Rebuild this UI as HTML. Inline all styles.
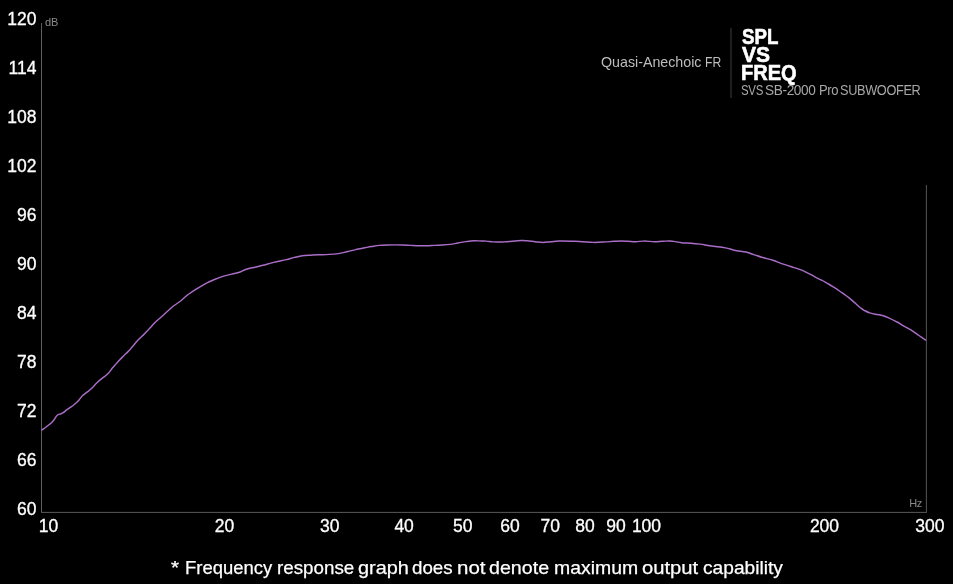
<!DOCTYPE html>
<html><head><meta charset="utf-8"><style>
html,body{margin:0;padding:0;background:#000;}
body{width:953px;height:584px;position:relative;overflow:hidden;font-family:"Liberation Sans",sans-serif;color:#fff;}
svg{position:absolute;left:0;top:0;}
.t{position:absolute;white-space:nowrap;line-height:1;}
.yl{font-size:17.5px;-webkit-text-stroke:0.3px #fff;text-align:right;width:60px;}
.xl{font-size:17.5px;-webkit-text-stroke:0.3px #fff;}
.u{font-size:11px;color:#8a8a8a;}
.cw{top:557.5px;font-size:19px;-webkit-text-stroke:0.25px #fff;transform-origin:0 0;}
.qa{top:53.5px;font-size:15px;color:#bdbdbd;transform-origin:0 0;}
.svs{top:82.2px;font-size:15px;color:#a8a8a8;letter-spacing:-0.4px;transform-origin:0 0;}
.b{-webkit-text-stroke:0.6px #fff;font-size:22px;font-weight:bold;transform-origin:0 0;}
</style></head><body>
<svg width="953" height="584" viewBox="0 0 953 584">
<rect x="41" y="23" width="1" height="490" fill="#5f5f5f"/>
<rect x="42" y="511" width="884" height="1" fill="#0a0a0a"/>
<rect x="41" y="512" width="886" height="1" fill="#4f4f4f"/>
<rect x="925" y="185" width="1" height="327" fill="#090909"/>
<rect x="926" y="185" width="1" height="328" fill="#4c4c4c"/>
<rect x="730" y="28" width="2" height="70" fill="#1f1f1f"/>
<path d="M41.5,430.4 C43.00,429.38 44.50,428.05 46.0,427.0 C48.00,425.61 50.00,424.16 52.0,422.2 C52.80,421.41 53.60,420.28 54.4,419.3 C55.20,418.32 56.00,416.42 56.8,415.7 C57.27,415.28 57.73,414.94 58.2,414.7 C59.13,414.21 60.07,414.16 61.0,413.8 C61.60,413.57 62.20,413.21 62.8,412.9 C64.20,412.17 65.60,410.62 67.0,409.7 C68.80,408.52 70.60,407.25 72.4,406.0 C73.60,405.16 74.80,404.00 76.0,403.0 C77.00,402.17 78.00,401.01 79.0,400.0 C80.13,398.85 81.27,396.80 82.4,395.7 C84.33,393.82 86.27,392.75 88.2,391.3 C89.63,390.23 91.07,388.78 92.5,387.5 C93.73,386.40 94.97,384.60 96.2,383.5 C97.33,382.49 98.47,381.27 99.6,380.4 C101.10,379.25 102.60,378.02 104.1,376.9 C105.60,375.77 107.10,374.36 108.6,372.9 C110.00,371.54 111.40,369.10 112.8,367.6 C114.23,366.06 115.67,364.23 117.1,362.8 C118.53,361.38 119.97,359.45 121.4,358.1 C122.83,356.75 124.27,355.05 125.7,353.8 C126.83,352.81 127.97,351.68 129.1,350.6 C130.23,349.52 131.37,347.81 132.5,346.6 C133.93,345.06 135.37,342.81 136.8,341.4 C137.93,340.29 139.07,339.01 140.2,338.0 C141.37,336.96 142.53,335.65 143.7,334.6 C145.63,332.86 147.57,330.38 149.5,328.5 C151.13,326.91 152.77,324.58 154.4,323.1 C156.60,321.11 158.80,319.10 161.0,317.3 C163.17,315.53 165.33,312.96 167.5,311.2 C169.70,309.42 171.90,307.03 174.1,305.5 C176.30,303.97 178.50,302.56 180.7,301.0 C182.90,299.44 185.10,296.65 187.3,295.1 C189.47,293.57 191.63,291.97 193.8,290.7 C196.00,289.41 198.20,287.77 200.4,286.6 C202.90,285.27 205.40,283.52 207.9,282.4 C210.50,281.23 213.10,279.94 215.7,279.0 C218.33,278.05 220.97,276.84 223.6,276.1 C226.23,275.37 228.87,274.69 231.5,274.1 C234.13,273.52 236.77,273.03 239.4,272.2 C241.47,271.55 243.53,270.17 245.6,269.5 C248.77,268.48 251.93,267.89 255.1,267.2 C257.73,266.63 260.37,265.92 263.0,265.3 C265.60,264.69 268.20,263.71 270.8,263.1 C273.43,262.48 276.07,261.72 278.7,261.2 C281.33,260.68 283.97,260.17 286.6,259.6 C289.20,259.03 291.80,257.97 294.4,257.4 C297.03,256.83 299.67,256.13 302.3,255.8 C304.93,255.47 307.57,255.36 310.2,255.2 C312.83,255.03 315.47,254.79 318.1,254.7 C320.70,254.61 323.30,254.69 325.9,254.6 C328.53,254.51 331.17,254.31 333.8,254.1 C335.37,253.97 336.93,253.81 338.5,253.6 C341.63,253.19 344.77,252.16 347.9,251.5 C350.50,250.95 353.10,250.12 355.7,249.6 C358.33,249.07 360.97,248.47 363.6,248.0 C366.23,247.53 368.87,246.89 371.5,246.5 C374.13,246.11 376.77,245.63 379.4,245.4 C382.00,245.18 384.60,245.08 387.2,245.0 C392.47,244.84 397.73,244.84 403.0,245.0 C405.60,245.08 408.20,245.30 410.8,245.4 C413.43,245.51 416.07,245.66 418.7,245.7 C421.33,245.74 423.97,245.75 426.6,245.7 C429.20,245.65 431.80,245.50 434.4,245.4 C437.03,245.29 439.67,245.15 442.3,245.0 C444.93,244.85 447.57,244.70 450.2,244.4 C452.83,244.10 455.47,243.42 458.1,243.0 C460.70,242.58 463.30,241.93 465.9,241.6 C468.53,241.27 471.17,240.89 473.8,240.8 C476.43,240.71 479.07,240.95 481.7,241.0 C483.23,241.03 484.77,241.01 486.3,241.1 C488.40,241.23 490.50,241.75 492.6,241.9 C496.27,242.17 499.93,242.03 503.6,241.9 C507.27,241.77 510.93,241.23 514.6,241.0 C517.23,240.83 519.87,240.46 522.5,240.5 C524.07,240.52 525.63,240.68 527.2,240.8 C529.83,241.00 532.47,241.44 535.1,241.7 C537.73,241.95 540.37,242.50 543.0,242.5 C545.60,242.50 548.20,241.92 550.8,241.7 C553.43,241.47 556.07,241.12 558.7,241.0 C563.93,240.75 569.17,241.11 574.4,241.3 C577.03,241.39 579.67,241.57 582.3,241.7 C585.97,241.89 589.63,242.35 593.3,242.4 C597.50,242.46 601.70,242.13 605.9,241.9 C608.53,241.75 611.17,241.44 613.8,241.3 C616.43,241.17 619.07,240.98 621.7,241.0 C623.77,241.02 625.83,241.21 627.9,241.3 C630.50,241.42 633.10,241.73 635.7,241.7 C638.33,241.67 640.97,241.15 643.6,241.1 C647.27,241.03 650.93,241.72 654.6,241.7 C657.23,241.68 659.87,241.41 662.5,241.3 C665.13,241.20 667.77,240.84 670.4,241.0 C671.97,241.09 673.53,241.39 675.1,241.6 C677.20,241.88 679.30,242.46 681.4,242.7 C684.53,243.05 687.67,242.99 690.8,243.2 C693.97,243.41 697.13,243.71 700.3,244.1 C703.43,244.49 706.57,245.37 709.7,245.8 C712.33,246.16 714.97,246.49 717.6,246.8 C720.23,247.12 722.87,247.46 725.5,247.9 C729.17,248.52 732.83,250.07 736.5,250.7 C739.63,251.24 742.77,251.32 745.9,252.0 C748.53,252.57 751.17,253.82 753.8,254.6 C756.43,255.38 759.07,256.50 761.7,257.2 C763.40,257.65 765.10,258.18 766.8,258.6 C769.10,259.17 771.40,259.82 773.7,260.5 C775.97,261.17 778.23,262.37 780.5,263.1 C782.80,263.84 785.10,264.72 787.4,265.4 C789.67,266.07 791.93,266.93 794.2,267.6 C796.50,268.28 798.80,269.07 801.1,269.9 C803.37,270.72 805.63,272.07 807.9,273.1 C810.20,274.14 812.50,275.73 814.8,276.8 C817.07,277.86 819.33,279.13 821.6,280.2 C823.90,281.29 826.20,282.79 828.5,284.0 C830.77,285.19 833.03,286.88 835.3,288.2 C837.60,289.54 839.90,291.45 842.2,292.9 C844.47,294.33 846.73,296.18 849.0,297.8 C851.30,299.44 853.60,301.96 855.9,303.8 C857.27,304.89 858.63,306.53 860.0,307.5 C861.40,308.49 862.80,309.57 864.2,310.3 C866.03,311.26 867.87,312.31 869.7,312.9 C871.50,313.48 873.30,313.92 875.1,314.2 C876.47,314.41 877.83,314.47 879.2,314.7 C881.03,315.01 882.87,315.62 884.7,316.2 C886.53,316.78 888.37,317.84 890.2,318.6 C892.50,319.56 894.80,320.87 897.1,322.0 C899.37,323.12 901.63,324.92 903.9,326.1 C906.20,327.29 908.50,328.61 910.8,329.9 C913.07,331.17 915.33,333.20 917.6,334.6 C920.40,336.33 923.20,338.59 926.0,340.3" fill="none" stroke="#aa6ec8" stroke-width="1.45" stroke-linejoin="round" stroke-linecap="butt"/>
</svg>
<div id="txt" style="position:absolute;left:0;top:0;width:953px;height:584px;will-change:transform;">
<div class="t yl" id="y120" style="left:-23.5px;top:11.30px">120</div>
<div class="t yl" id="y114" style="left:-23.5px;top:60.30px">114</div>
<div class="t yl" id="y108" style="left:-23.5px;top:109.30px">108</div>
<div class="t yl" id="y102" style="left:-23.5px;top:158.30px">102</div>
<div class="t yl" id="y96" style="left:-23.5px;top:207.30px">96</div>
<div class="t yl" id="y90" style="left:-23.5px;top:256.30px">90</div>
<div class="t yl" id="y84" style="left:-23.5px;top:305.30px">84</div>
<div class="t yl" id="y78" style="left:-23.5px;top:354.30px">78</div>
<div class="t yl" id="y72" style="left:-23.5px;top:403.30px">72</div>
<div class="t yl" id="y66" style="left:-23.5px;top:452.30px">66</div>
<div class="t yl" id="y60" style="left:-23.5px;top:501.30px">60</div>
<div class="t xl" id="x10" style="left:38.8px;top:517.7px">10</div>
<div class="t xl" id="x20" style="left:214.8px;top:517.7px">20</div>
<div class="t xl" id="x30" style="left:320.1px;top:517.7px">30</div>
<div class="t xl" id="x40" style="left:394.4px;top:517.7px">40</div>
<div class="t xl" id="x50" style="left:453.1px;top:517.7px">50</div>
<div class="t xl" id="x60" style="left:500.2px;top:517.7px">60</div>
<div class="t xl" id="x70" style="left:540.5px;top:517.7px">70</div>
<div class="t xl" id="x80" style="left:575.2px;top:517.7px">80</div>
<div class="t xl" id="x90" style="left:606.2px;top:517.7px">90</div>
<div class="t xl" id="x100" style="left:631.9px;top:517.7px">100</div>
<div class="t xl" id="x200" style="left:809.9px;top:517.7px">200</div>
<div class="t xl" id="x300" style="left:915.2px;top:517.7px">300</div>
<div class="t u" id="db" style="left:45px;top:17px">dB</div>
<div class="t u" id="hz" style="left:909.3px;top:497.5px;letter-spacing:-0.5px">Hz</div>
<div class="t qa" id="qa0" style="left:600.55px;transform:scaleX(0.9489)">Quasi-Anechoic</div>
<div class="t qa" id="qa1" style="left:704.93px;transform:scaleX(0.8064)">FR</div>
<div class="t b" id="spl" style="left:742px;top:26.45px;transform:scaleX(0.85)">SPL</div>
<div class="t b" id="vs" style="left:742px;top:44.45px;transform:scaleX(0.955)">VS</div>
<div class="t b" id="freq" style="left:741.3px;top:62.15px;transform:scaleX(0.91)">FREQ</div>
<div class="t svs" id="svs0" style="left:741.1px;transform:scaleX(0.7635)">SVS</div>
<div class="t svs" id="svs1" style="left:764.83px;transform:scaleX(0.9093)">SB-2000</div>
<div class="t svs" id="svs2" style="left:818.66px;transform:scaleX(0.8687)">Pro</div>
<div class="t svs" id="svs3" style="left:839.7px;transform:scaleX(0.8485)">SUBWOOFER</div>
<div class="t cw" id="cw0" style="left:171.24px;transform:scaleX(1.0887)">*</div>
<div class="t cw" id="cw1" style="left:184.54px;transform:scaleX(0.9718)">Frequency</div>
<div class="t cw" id="cw2" style="left:276.57px;transform:scaleX(0.9886)">response</div>
<div class="t cw" id="cw3" style="left:357.55px;transform:scaleX(1.0478)">graph</div>
<div class="t cw" id="cw4" style="left:411.81px;transform:scaleX(0.986)">does</div>
<div class="t cw" id="cw5" style="left:456.75px;transform:scaleX(1.0788)">not</div>
<div class="t cw" id="cw6" style="left:489.27px;transform:scaleX(1.0339)">denote</div>
<div class="t cw" id="cw7" style="left:553.62px;transform:scaleX(1.022)">maximum</div>
<div class="t cw" id="cw8" style="left:642.04px;transform:scaleX(1.0641)">output</div>
<div class="t cw" id="cw9" style="left:702.89px;transform:scaleX(1.008)">capability</div>
</div>
</body></html>
